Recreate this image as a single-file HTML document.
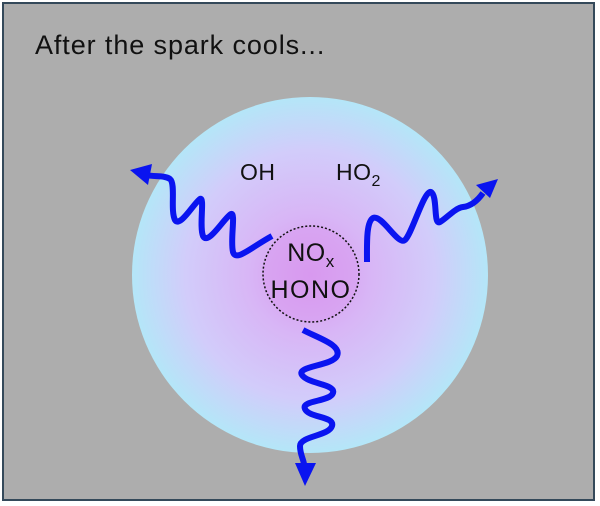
<!DOCTYPE html>
<html><head><style>
html,body{margin:0;padding:0;width:600px;height:506px;overflow:hidden;background:#fff}
svg{display:block}
text{font-family:"Liberation Sans",sans-serif;fill:#111}
</style></head><body>
<svg width="600" height="506" viewBox="0 0 600 506">
<defs>
<radialGradient id="g" cx="310" cy="275" r="178" gradientUnits="userSpaceOnUse">
<stop offset="0" stop-color="#d896ee"/>
<stop offset="0.35" stop-color="#d8b6f6"/>
<stop offset="0.7" stop-color="#d2ccfa"/>
<stop offset="1" stop-color="#b4e6f8"/>
</radialGradient>
</defs>
<rect x="3" y="3" width="591" height="497" fill="#adadad" stroke="#34495a" stroke-width="2"/>
<text x="35" y="54" font-size="27" letter-spacing="0.9">After the spark cools...</text>
<circle cx="310" cy="275" r="178" fill="url(#g)"/>
<circle cx="311" cy="274" r="48" fill="#d89cf0" fill-opacity="0.5" stroke="#111" stroke-width="1.5" stroke-dasharray="2,2"/>
<text x="311" y="261" font-size="25" text-anchor="middle" letter-spacing="0.5">NO<tspan font-size="17" dy="6">x</tspan></text>
<text x="311" y="298" font-size="25" text-anchor="middle" letter-spacing="1.5">HONO</text>
<text x="240" y="180" font-size="23" letter-spacing="0.5">OH</text>
<text x="336" y="180" font-size="23" letter-spacing="0.5">HO<tspan font-size="16" dy="6">2</tspan></text>
<g fill="none" stroke="#0a14f0" stroke-width="6" stroke-linecap="butt" stroke-linejoin="round">
<path d="M272,236 C250,248 236,262 233,252 C230,240 236,212 231,214 C224,218 208,246 203,236 C199,226 205,196 200,199 C194,203 180,228 175,220 C170,210 176,184 170,179 C164,175 155,177 146,175"/>
<path d="M367,262 C367,245 366,222 373,218 C382,214 398,246 405,240 C412,234 424,190 431,192 C438,196 433,226 440,222 C447,218 455,208 463,207 C472,206 478,200 483,193"/>
<path d="M303,330 C318,338 342,345 337,356 C332,366 296,366 302,375 C308,384 336,384 333,393 C330,402 301,400 305,409 C309,418 335,416 332,426 C329,436 300,436 300,446 C300,454 303,458 304,464"/>
</g>
<g fill="#0a14f0">
<polygon points="130,170 152,164 148,185"/>
<polygon points="498,179 476,185 490,198"/>
<polygon points="305,486 295,463 316,463"/>
</g>
</svg>
</body></html>
